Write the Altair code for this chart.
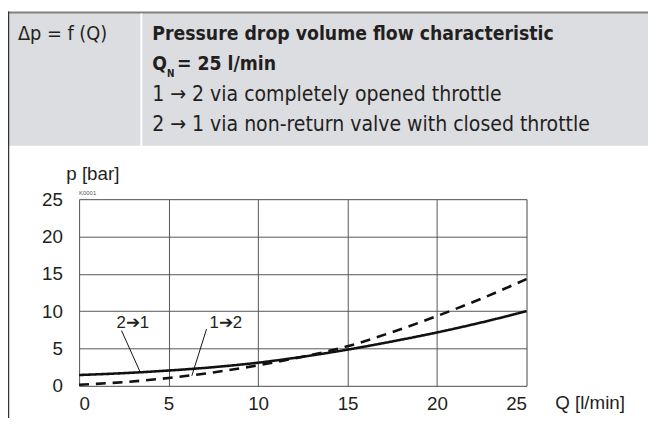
import altair as alt
import pandas as pd

# ---- data ----
flow_q = [0, 2.5, 5, 7.5, 10, 12.5, 15, 17.5, 20, 22.5, 25]
p_2_to_1 = [1.45, 1.7, 2.05, 2.5, 3.1, 3.9, 4.85, 5.95, 7.15, 8.5, 10.0]   # solid
p_1_to_2 = [0.15, 0.5, 1.05, 1.8, 2.75, 3.9, 5.3, 7.2, 9.35, 11.7, 14.3]   # dashed
series_names = ["2→1", "1→2"]
x_ticks = [0, 5, 10, 15, 20, 25]
y_ticks = [0, 5, 10, 15, 20, 25]

# leader lines: (label end -> curve end) in data units
leader_q = [2.37, 3.42, 7.12, 6.3]
leader_p = [7.4, 1.8, 7.6, 1.35]
leader_id = ["a", "a", "b", "b"]
label_q = [3.0, 8.2]
label_p = [8.35, 8.35]
label_txt = ["2➔1", "1➔2"]

rows = []
for q, a, b in zip(flow_q, p_2_to_1, p_1_to_2):
    rows.append({"Q": q, "p": a, "s": series_names[0]})
    rows.append({"Q": q, "p": b, "s": series_names[1]})
df = pd.DataFrame(rows)
lead_df = pd.DataFrame({"Q": leader_q, "p": leader_p, "id": leader_id})
lab_df = pd.DataFrame({"Q": label_q, "p": label_p, "t": label_txt})

W, H = 453, 189
HF = "DejaVu Sans Condensed, Roboto Condensed, Liberation Sans Narrow, Roboto"
TXT = "#231f20"

xs = alt.Scale(domain=[0, 25], nice=False)
ys = alt.Scale(domain=[0, 25], nice=False)
x_axis = alt.Axis(values=x_ticks, title=None, grid=True, gridColor="#555", gridWidth=1,
                  domain=False, ticks=False, labelFont="Liberation Sans", labelFontSize=19,
                  labelColor=TXT, labelPadding=9, labelBaseline="top", format="d",
                  labelOverlap=False)
y_axis = alt.Axis(values=y_ticks, title=None, grid=True, gridColor="#555", gridWidth=1,
                  domain=False, ticks=False, labelFont="Liberation Sans", labelFontSize=19,
                  labelColor=TXT, labelPadding=17, format="d", labelOverlap=False)

def X():
    return alt.X("Q:Q", scale=xs, axis=x_axis)

def Y():
    return alt.Y("p:Q", scale=ys, axis=y_axis)

curves = alt.Chart(df).mark_line(color="#111", strokeWidth=2.6, interpolate="monotone").encode(
    x=X(), y=Y(),
    strokeDash=alt.StrokeDash("s:N", scale=alt.Scale(domain=series_names,
                                                      range=[[1, 0], [10, 7]]), legend=None),
    detail="s:N",
)

leaders = alt.Chart(lead_df).mark_line(color="#111", strokeWidth=1).encode(
    x=X(), y=Y(), detail="id:N")

labels = alt.Chart(lab_df).mark_text(font="Liberation Sans", fontSize=17, color=TXT).encode(
    x=X(), y=Y(), text="t:N")

one = pd.DataFrame({"k": [0]})

def deco():
    return alt.Chart(one)

header_box = deco().mark_rect(color="#dcdde0").encode(
    x=alt.value(-72), x2=alt.value(576), y=alt.value(-189), y2=alt.value(-54))
top_line = deco().mark_rule(color="#808080", strokeWidth=2).encode(
    x=alt.value(-72), x2=alt.value(576), y=alt.value(-189))
left_line = deco().mark_rule(color="#333", strokeWidth=1.5).encode(
    x=alt.value(-71.5), y=alt.value(-190), y2=alt.value(222))
divider = deco().mark_rule(color="#ffffff", strokeWidth=2).encode(
    x=alt.value(63), y=alt.value(-188), y2=alt.value(-54))

def htext(txt, x, y, size=21, bold=False, font=HF, color=TXT, baseline="alphabetic"):
    return deco().mark_text(text=txt, font=font, fontSize=size,
                            fontWeight="bold" if bold else "normal", color=color,
                            align="left", baseline=baseline).encode(
        x=alt.value(x), y=alt.value(y))

texts = [
    htext("Δp = f (Q)", -62, -161, size=20),
    htext("Pressure drop volume flow characteristic", 74, -161, size=19.5, bold=True),
    htext("Q", 74, -131, size=19.5, bold=True),
    htext("N", 89, -124, size=10, bold=True),
    htext("= 25 l/min", 99, -131, size=19.5, bold=True),
    htext("1 → 2 via completely opened throttle", 74, -99, size=21.3),
    htext("2 → 1 via non-return valve with closed throttle", 74, -69, size=21.3),
    htext("p [bar]", -13, -19, size=19, font="Liberation Sans"),
    htext("K0001", 0, -4, size=6, font="Liberation Sans", color="#555"),
    htext("Q [l/min]", 482, 212, size=19, font="Liberation Sans"),
]

chart = alt.layer(header_box, top_line, left_line, divider, *texts,
                  curves, leaders, labels).properties(
    width=W, height=H,
    autosize=alt.AutoSizeParams(type="none"),
    padding={"left": 72, "top": 191, "right": 123, "bottom": 30},
).configure_view(stroke="#333", strokeWidth=1.3, clip=False).configure(background="white")

chart.save("out.html", embed_options={"renderer": "svg", "actions": False})
